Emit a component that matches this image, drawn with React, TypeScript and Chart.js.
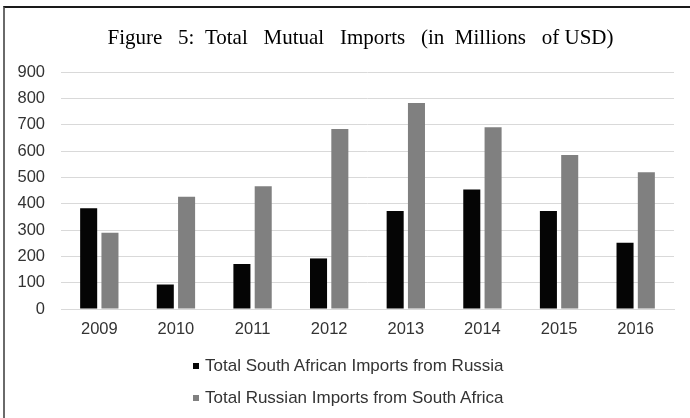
import React, { useEffect, useRef } from "react";
import { Chart, registerables } from "chart.js";

Chart.register(...registerables);

const years = ["2009", "2010", "2011", "2012", "2013", "2014", "2015", "2016"];
const saImportsFromRussia = [383, 93, 171, 192, 372, 454, 372, 252];
const ruImportsFromSA = [290, 426, 466, 684, 782, 690, 585, 519];
const seriesLabels = [
  "Total South African Imports from Russia",
  "Total Russian Imports from South Africa",
];
const yTicks = [0, 100, 200, 300, 400, 500, 600, 700, 800, 900];
const titleText = "Figure   5:  Total   Mutual   Imports   (in  Millions   of USD)";

const COLORS = ["#050505", "#808080"];
const SANS = "'Liberation Sans', Arial, sans-serif";
const SERIF = "'Liberation Serif', 'Times New Roman', serif";

const titlePlugin = {
  id: "figureTitle",
  afterDraw(chart: any) {
    const ctx = chart.ctx;
    ctx.save();
    ctx.font = `normal 21px ${SERIF}`;
    ctx.fillStyle = "#000";
    ctx.textAlign = "center";
    ctx.textBaseline = "alphabetic";
    ctx.fillText(titleText, 360.5, 44);
    ctx.restore();
  },
};

export default function App() {
  const ref = useRef<HTMLCanvasElement | null>(null);

  useEffect(() => {
    if (!ref.current) return;
    const chart = new Chart(ref.current, {
      type: "bar",
      data: {
        labels: years,
        datasets: [
          {
            label: seriesLabels[0],
            data: saImportsFromRussia,
            backgroundColor: COLORS[0],
            categoryPercentage: 0.556,
            barPercentage: 0.8,
          },
          {
            label: seriesLabels[1],
            data: ruImportsFromSA,
            backgroundColor: COLORS[1],
            categoryPercentage: 0.556,
            barPercentage: 0.8,
          },
        ],
      },
      plugins: [titlePlugin],
      options: {
        responsive: false,
        animation: false,
        layout: { padding: { top: 72, left: 0, right: 16, bottom: 69 } },
        plugins: {
          legend: { display: false },
          tooltip: { enabled: false },
          title: { display: false },
        },
        scales: {
          x: {
            grid: { display: false, drawTicks: false },
            border: { display: true, color: "#d9d9d9", width: 1 },
            ticks: {
              color: "#333",
              font: { family: SANS, size: 16.5 },
              padding: 11,
            },
            afterFit: (s: any) => {
              s.height = 40;
            },
          },
          y: {
            min: yTicks[0],
            max: yTicks[yTicks.length - 1],
            grid: { color: "#d9d9d9", lineWidth: 1, drawTicks: false },
            border: { display: false },
            ticks: {
              stepSize: yTicks[1] - yTicks[0],
              color: "#333",
              font: { family: SANS, size: 16.5 },
              padding: 16,
            },
            afterFit: (s: any) => {
              s.width = 61;
            },
          },
        },
      },
    });
    return () => chart.destroy();
  }, []);

  return (
    <div
      style={{
        position: "fixed",
        left: 0,
        top: 0,
        width: 690,
        height: 418,
        background: "#fff",
        overflow: "hidden",
      }}
    >
      <div
        style={{
          position: "absolute",
          left: 3,
          top: 6,
          width: 720,
          height: 480,
          borderTop: "2px solid #1a1a1a",
          borderLeft: "2px solid #6a6a6a",
          boxSizing: "border-box",
        }}
      />
      <canvas
        ref={ref}
        width={690}
        height={418}
        style={{ position: "absolute", left: 0, top: 0 }}
      />
      {seriesLabels.map((label, i) => (
        <div
          key={label}
          style={{
            position: "absolute",
            left: 193,
            top: 356 + i * 32,
            height: 20,
            display: "flex",
            alignItems: "center",
            fontFamily: SANS,
            fontSize: 17,
            color: "#333",
            whiteSpace: "nowrap",
          }}
        >
          <span
            style={{
              display: "inline-block",
              width: 6,
              height: 6,
              background: COLORS[i],
              marginRight: 6,
            }}
          />
          <span>{label}</span>
        </div>
      ))}
    </div>
  );
}
